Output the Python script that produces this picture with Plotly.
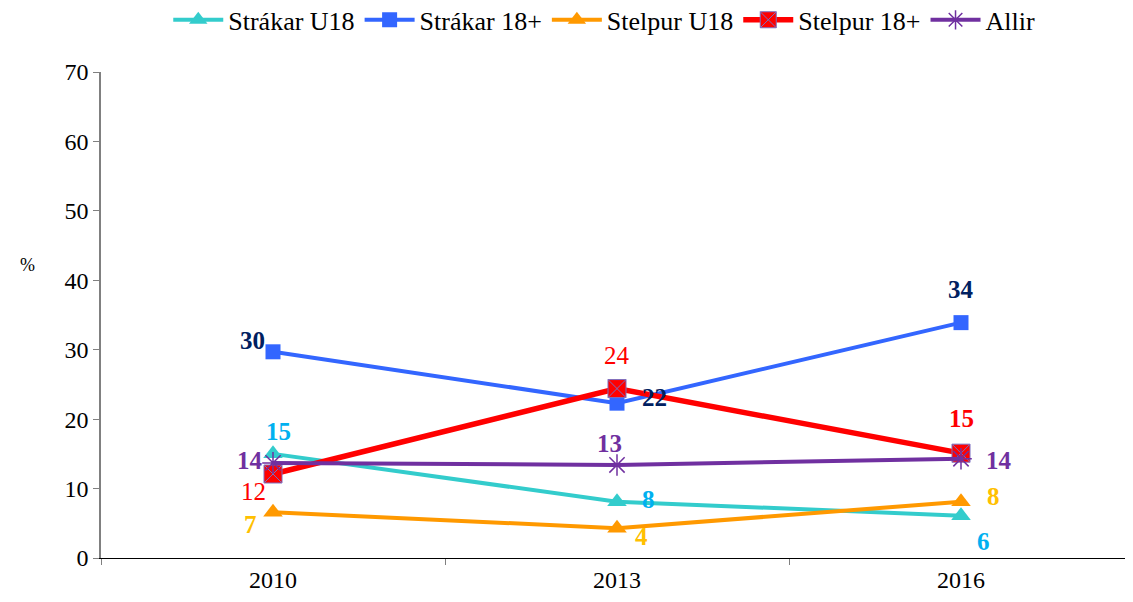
import plotly.graph_objects as go

# =========================
# DATA
# =========================
years = ["2010", "2013", "2016"]

strakar_u18 = [15.0, 8.1, 6.1]
strakar_18 = [29.7, 22.3, 33.9]
stelpur_u18 = [6.6, 4.3, 8.1]
stelpur_18 = [12.1, 24.4, 15.1]
allir = [13.7, 13.4, 14.3]

y_ticks = [0, 10, 20, 30, 40, 50, 60, 70]

FONT = "Liberation Serif"

# =========================
# SERIES
# =========================
series = [
    ("Strákar U18", strakar_u18, "#33CCCC", 4, dict(symbol="triangle-up", size=17, color="#33CCCC")),
    ("Strákar 18+", strakar_18, "#3366FF", 4, dict(symbol="square", size=15, color="#3366FF")),
    ("Stelpur U18", stelpur_u18, "#FF9900", 4, dict(symbol="triangle-up", size=17, color="#FF9900")),
    ("Stelpur 18+", stelpur_18, "#FF0000", 5.5, dict(symbol="square-x", size=18, color="#FF0000",
                                                     line=dict(color="#7A6FC0", width=1))),
    ("Allir", allir, "#7030A0", 4, dict(symbol="asterisk-open", size=18,
                                        line=dict(color="#7030A0", width=1.5))),
]

fig = go.Figure()
for name, vals, col, w, mk in series:
    fig.add_trace(go.Scatter(x=years, y=vals, name=name, mode="lines+markers",
                             line=dict(color=col, width=w), marker=mk))

# data labels: (series values, color, bold, per-point (xshift, yshift))
labels = [
    (strakar_u18, "#00B0F0", [True] * 3, [(5, 22), (31, 2), (22, -26)]),
    (strakar_18, "#002060", [True] * 3, [(-21, 11), (37, 6), (0, 33)]),
    (stelpur_u18, "#FFC000", [True] * 3, [(-23, -12), (24, -8), (32, 5)]),
    (stelpur_18, "#FF0000", [False, False, True], [(-20, -18), (0, 33), (0, 35)]),
    (allir, "#7030A0", [True] * 3, [(-23, 2), (-8, 21), (38, -2)]),
]
for vals, col, bold, shifts in labels:
    for i, (v, b, (dx, dy)) in enumerate(zip(vals, bold, shifts)):
        txt = str(int(round(v)))
        if b:
            txt = "<b>" + txt + "</b>"
        # category axis: position annotations by category index
        fig.add_annotation(x=i, y=v, xref="x", yref="y", text=txt, showarrow=False,
                           xshift=dx, yshift=dy,
                           font=dict(family=FONT, size=25, color=col))

fig.add_annotation(xref="paper", yref="paper", x=-0.08, y=0.603, text="%", showarrow=False,
                   font=dict(family=FONT, size=18, color="black"))

# page body has an 8px margin, so figure is sized 8px smaller
fig.update_layout(
    width=1125, height=594,
    margin=dict(l=93, r=0, t=64, b=44),
    plot_bgcolor="white", paper_bgcolor="white",
    font=dict(family=FONT, size=24, color="black"),
    showlegend=True,
    legend=dict(orientation="h", x=0.53, xanchor="center", xref="container",
                y=0.98, yanchor="middle", yref="container",
                font=dict(family=FONT, size=26), itemwidth=50, tracegroupgap=0),
    xaxis=dict(type="category", range=[-0.5, 2.5], showgrid=False, showline=True,
               linecolor="black", linewidth=1, ticks="outside", tickson="boundaries",
               ticklen=6, tickcolor="#808080", tickfont=dict(size=24)),
    yaxis=dict(range=[0, 70], tickvals=y_ticks, showgrid=False, showline=True,
               linecolor="#808080", linewidth=1.5, ticks="outside", ticklen=6,
               tickcolor="#808080", zeroline=False, tickfont=dict(size=24)),
)

fig.write_html("out.html")
